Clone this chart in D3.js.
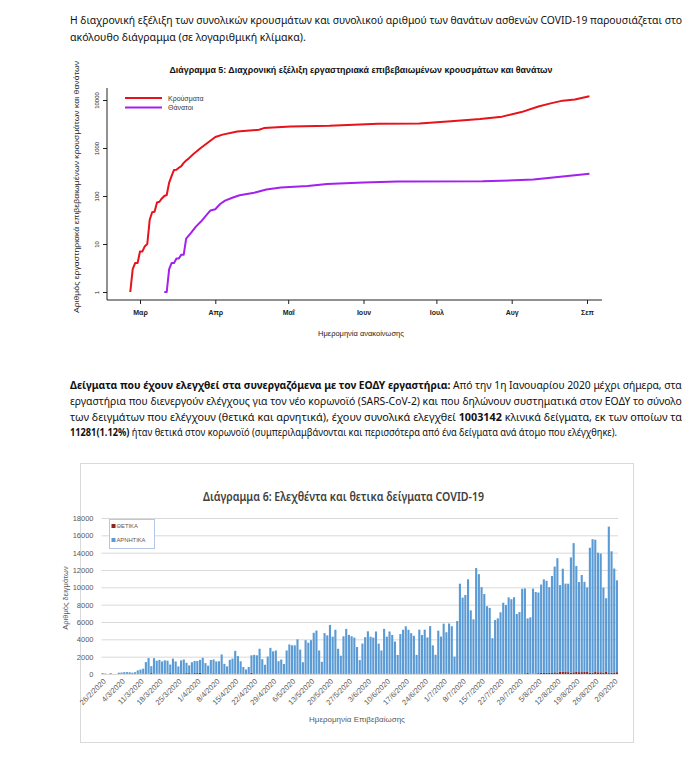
<!DOCTYPE html>
<html>
<head>
<meta charset="utf-8">
<title>ΕΟΔΥ - Διαγράμματα 5 και 6</title>
<script src="https://d3js.org/d3.v7.min.js"></script>
<style>
  body { margin: 0; background: #fff; }
  svg { display: block; font-family: "Liberation Sans", Arial, sans-serif; }
  text { white-space: pre; }
</style>
</head>
<body>
<div id="page"></div>
<script>
// ---------- document text ----------
const para1Lines = [
  [{t: "Η διαχρονική εξέλιξη των συνολικών κρουσμάτων και συνολικού αριθμού των θανάτων ασθενών COVID-19 παρουσιάζεται στο"}],
  [{t: "ακόλουθο διάγραμμα (σε λογαριθμική κλίμακα)."}]
];
const para2Lines = [
  [{t: "Δείγματα που έχουν ελεγχθεί στα συνεργαζόμενα με τον ΕΟΔΥ εργαστήρια:", b: true}, {t: " Από την 1η Ιανουαρίου 2020 μέχρι σήμερα, στα"}],
  [{t: "εργαστήρια που διενεργούν ελέγχους για τον νέο κορωνοϊό (SARS-CoV-2) και που δηλώνουν συστηματικά στον ΕΟΔΥ το σύνολο"}],
  [{t: "των δειγμάτων που ελέγχουν (θετικά και αρνητικά), έχουν συνολικά ελεγχθεί "}, {t: "1003142", b: true}, {t: " κλινικά δείγματα, εκ των οποίων τα"}],
  [{t: "11281(1.12%)", b: true}, {t: " ήταν θετικά στον κορωνοϊό (συμπεριλαμβάνονται και περισσότερα από ένα δείγματα ανά άτομο που ελέγχθηκε)."}]
];

// ---------- Διάγραμμα 5: cumulative cases / deaths (log scale) ----------
const caseDates = ["2020-02-26","2020-02-27","2020-02-28","2020-02-29","2020-03-01","2020-03-02","2020-03-03",
  "2020-03-04","2020-03-05","2020-03-06","2020-03-07","2020-03-08","2020-03-09","2020-03-10","2020-03-11",
  "2020-03-12","2020-03-13","2020-03-14","2020-03-15","2020-03-16","2020-03-17","2020-03-18","2020-03-19",
  "2020-03-20","2020-03-21","2020-03-23","2020-03-26","2020-03-29","2020-04-01","2020-04-04","2020-04-10",
  "2020-04-19","2020-04-21","2020-05-02","2020-05-18","2020-06-07","2020-06-24","2020-07-07","2020-07-19",
  "2020-07-28","2020-08-05","2020-08-12","2020-08-17","2020-08-22","2020-08-27","2020-09-02"];
const caseValues = [1,3,4,4,7,7,9,
  10,32,46,47,73,76,89,100,
  105,190,260,350,352,387,420,490,
  550,600,750,1000,1300,1700,1900,2200,
  2400,2600,2800,2900,3200,3250,3600,4000,
  4500,5600,7300,8500,9700,10200,12000];

const deathDates = ["2020-03-11","2020-03-12","2020-03-13","2020-03-14","2020-03-15","2020-03-16","2020-03-17",
  "2020-03-18","2020-03-19","2020-03-20","2020-03-22","2020-03-24","2020-03-26","2020-03-28","2020-03-30",
  "2020-04-01","2020-04-03","2020-04-05","2020-04-08","2020-04-11","2020-04-17","2020-04-22","2020-04-28",
  "2020-05-09","2020-05-17","2020-06-01","2020-06-15","2020-07-20","2020-08-10","2020-08-24","2020-09-02"];
const deathValues = [1,1,3,4,4,5,5,
  6,6,13,17,23,29,38,50,
  53,68,80,92,104,117,136,150,
  162,178,190,200,202,220,260,290];

const monthStarts = ["2020-03-01","2020-04-01","2020-05-01","2020-06-01","2020-07-01","2020-08-01","2020-09-01"];
const monthLabels = ["Μαρ","Απρ","Μαΐ","Ιουν","Ιουλ","Αυγ","Σεπ"];
const logTicks = [1, 10, 100, 1000, 10000];

// ---------- Διάγραμμα 6: daily samples, 26/2/2020 onwards ----------
const firstSampleDay = "2020-02-26";
const negatives = [
  100,50,0,100,0,0,150,150,200,200,200,150,200,400,500,600,1300,1800,800,1800,
  1500,1600,1400,1550,1500,1000,1700,1400,800,1500,1600,1200,900,1300,1400,1400,1500,1800,1200,900,
  1600,1600,1400,1400,2200,1100,850,1600,1750,2650,2050,1450,800,520,800,2000,2200,2100,2900,1700,
  1050,2000,3000,2600,2700,1450,1650,1150,2700,3400,3300,3300,4000,2800,1350,3900,3600,3900,4750,5000,
  2700,1400,4700,4450,5650,4300,5100,2900,2100,4350,5200,4500,4350,4200,3100,1600,3500,4250,4900,4300,
  4200,4900,3500,2700,5200,4300,4900,4500,3700,2200,4600,5100,5500,5100,4700,4400,2200,5100,4500,5100,
  4200,5500,3300,2200,5000,4300,5800,4800,5800,5500,2000,6100,10400,8800,9100,10900,7300,6300,12200,11500,
  10000,9200,7800,7600,4100,6200,6400,7100,8200,7900,8800,8600,8800,6900,7100,9800,9800,6300,6500,9800,
  9400,9300,10200,10800,10600,9900,11200,12200,13200,10000,11900,10200,10200,13300,14900,12200,10400,11200,10400,9700,
  14400,15400,15200,13800,13700,9800,8500,16900,14000,12000,10600
];
const positives = [
  1,2,1,3,0,0,2,22,14,21,7,7,11,16,10,18,73,38,103,21,
  35,31,46,31,35,94,71,48,78,71,74,95,95,56,102,101,129,69,60,62,
  20,77,52,71,56,70,33,31,25,22,15,17,11,0,10,156,7,55,16,10,
  16,12,15,14,10,25,15,2,18,9,13,6,6,10,8,3,16,10,6,14,
  16,3,21,9,16,7,6,9,10,0,4,11,10,2,12,5,14,3,26,5,
  3,3,4,15,12,10,6,6,47,2,7,2,5,5,10,4,11,16,4,19,
  21,31,5,18,3,23,9,20,25,13,7,12,19,14,15,23,41,13,24,26,
  21,29,29,25,31,28,20,23,21,56,43,30,57,25,49,34,78,110,36,48,
  55,102,124,121,151,122,110,196,162,262,254,230,217,149,203,269,209,220,235,284,
  168,157,293,197,202,168,247,101,157,169,211
];
const yTicks6 = [0, 2000, 4000, 6000, 8000, 10000, 12000, 14000, 16000, 18000];
const seriesNames6 = ["ΘΕΤΙΚΑ", "ΑΡΝΗΤΙΚΑ"];
const seriesColors6 = ["#8e2323", "#5b9bd5"];

// ---------- page ----------
const W = 692, H = 761;
const parse = d3.timeParse("%Y-%m-%d");
const svg = d3.select("#page").append("svg").attr("width", W).attr("height", H);
const docFont = "'Noto Sans', 'Open Sans', sans-serif";

// one text line of the document, stretched/squeezed to the reference width
function textLine(y, len, parts) {
  const g = svg.append("g");
  const t = g.append("text")
    .attr("x", 0).attr("y", 0)
    .attr("font-family", docFont).attr("font-size", 10.5).attr("fill", "#111");
  parts.forEach(p => t.append("tspan").attr("font-weight", p.b ? "bold" : null).text(p.t));
  const natural = t.node().getComputedTextLength();
  g.attr("transform", `translate(70,${y}) scale(${len / natural},1)`);
}
[613, 236].forEach((len, i) => textLine(24 + i * 17, len, para1Lines[i]));
[613, 613, 613, 548].forEach((len, i) => textLine(389 + i * 15.8, len, para2Lines[i]));

// ===== Διάγραμμα 5 =====
const g5 = svg.append("g");
const x5 = d3.scaleTime().domain([parse("2020-03-01"), parse("2020-09-01")]).range([140, 587]);
const y5 = d3.scaleLog().domain([1, 10000]).range([292, 100]);

g5.append("text")
  .attr("x", 361).attr("y", 73).attr("text-anchor", "middle")
  .attr("font-size", 8.5).attr("font-weight", "bold").attr("fill", "#111")
  .attr("textLength", 383).attr("lengthAdjust", "spacingAndGlyphs")
  .text("Διάγραμμα 5: Διαχρονική εξέλιξη εργαστηριακά επιβεβαιωμένων κρουσμάτων και θανάτων");

// L-shaped box
g5.append("path")
  .attr("d", "M107,88V300H602")
  .attr("fill", "none").attr("stroke", "#222").attr("stroke-width", 1);

const xAxis5 = g5.append("g").attr("transform", "translate(0,300)")
  .call(d3.axisBottom(x5)
    .tickValues(monthStarts.map(parse))
    .tickFormat((d, i) => monthLabels[i])
    .tickSize(4).tickPadding(6));
xAxis5.select(".domain").remove();
xAxis5.selectAll("line").attr("stroke", "#222");
xAxis5.selectAll("text").attr("font-size", 7).attr("font-weight", "bold")
  .attr("font-family", "'Liberation Sans', Arial, sans-serif").attr("fill", "#222");

const yAxis5 = g5.append("g").attr("transform", "translate(107,0)")
  .call(d3.axisLeft(y5).tickValues(logTicks).tickFormat(d3.format("d")).tickSize(4));
yAxis5.select(".domain").remove();
yAxis5.selectAll("line").attr("stroke", "#222");
yAxis5.selectAll("text")
  .attr("transform", "rotate(-90)")
  .attr("x", 0).attr("y", -8).attr("dy", 0)
  .attr("text-anchor", "middle")
  .attr("font-size", 6).attr("font-family", "'Liberation Sans', Arial, sans-serif").attr("fill", "#222");

g5.append("text")
  .attr("transform", "translate(79,187) rotate(-90)")
  .attr("text-anchor", "middle").attr("font-size", 7.5).attr("fill", "#222")
  .attr("textLength", 252).attr("lengthAdjust", "spacingAndGlyphs")
  .text("Αριθμός εργαστηριακά επιβεβαιωμένων κρουσμάτων και θανάτων");

g5.append("text")
  .attr("x", 361).attr("y", 336).attr("text-anchor", "middle")
  .attr("font-size", 7.5).attr("fill", "#222")
  .text("Ημερομηνία ανακοίνωσης");

const line5 = d3.line().x(d => x5(d[0])).y(d => y5(d[1]));
const cases = caseDates.map((d, i) => [parse(d), caseValues[i]]);
const deaths = deathDates.map((d, i) => [parse(d), deathValues[i]]);
const lineColors5 = ["#e8121a", "#a321ef"];
[cases, deaths].forEach((s, i) => {
  g5.append("path").datum(s)
    .attr("d", line5)
    .attr("fill", "none").attr("stroke", lineColors5[i])
    .attr("stroke-width", 2).attr("stroke-linejoin", "round");
});

const legend5 = g5.append("g");
["Κρούσματα", "Θάνατοι"].forEach((name, i) => {
  const y = 98 + i * 9.5;
  legend5.append("line").attr("x1", 125).attr("x2", 162).attr("y1", y).attr("y2", y)
    .attr("stroke", lineColors5[i]).attr("stroke-width", 2);
  legend5.append("text").attr("x", 168).attr("y", y + 2.5)
    .attr("font-size", 7).attr("fill", "#333").text(name);
});

// ===== Διάγραμμα 6 =====
const g6 = svg.append("g");
const day0 = parse(firstSampleDay);
const days6 = negatives.map((v, i) => d3.timeDay.offset(day0, i));
const fmt6 = d3.timeFormat("%-d/%-m/%Y");

g6.append("rect")
  .attr("x", 80.5).attr("y", 463.5).attr("width", 553).attr("height", 279)
  .attr("fill", "#fff").attr("stroke", "#d9d9d9");

const x6 = d3.scaleBand().domain(d3.range(negatives.length)).range([101.5, 618]).paddingInner(0.22);
const y6 = d3.scaleLinear().domain([0, 18000]).range([674, 518]);

g6.append("text")
  .attr("x", 343.5).attr("y", 501).attr("text-anchor", "middle")
  .attr("font-family", docFont).attr("font-size", 12).attr("font-weight", 600).attr("fill", "#404040")
  .attr("textLength", 281).attr("lengthAdjust", "spacingAndGlyphs")
  .text("Διάγραμμα 6: Ελεχθέντα και θετικα δείγματα COVID-19");

const yAxis6 = g6.append("g").attr("transform", "translate(101.5,0)")
  .call(d3.axisLeft(y6).tickValues(yTicks6).tickSize(-516.5).tickPadding(8).tickFormat(d3.format("d")));
yAxis6.select(".domain").remove();
yAxis6.selectAll("line").attr("stroke", "#d9d9d9");
yAxis6.selectAll("text").attr("font-size", 7.5).attr("fill", "#595959");

const rows6 = negatives.map((v, i) => ({i: i, pos: positives[i], neg: v}));
const stacked = d3.stack().keys(["pos", "neg"])(rows6);
g6.append("g").selectAll("g").data(stacked).join("g")
  .attr("fill", (d, k) => seriesColors6[k])
  .selectAll("rect").data(d => d).join("rect")
  .attr("x", d => x6(d.data.i))
  .attr("width", x6.bandwidth())
  .attr("y", d => y6(d[1]))
  .attr("height", d => y6(d[0]) - y6(d[1]));

g6.append("line").attr("x1", 101.5).attr("x2", 618).attr("y1", 674.5).attr("y2", 674.5)
  .attr("stroke", "#d9d9d9");

g6.append("g").selectAll("text")
  .data(d3.range(0, negatives.length, 7))
  .join("text")
  .attr("transform", i => `translate(${x6(i) + x6.bandwidth() / 2 + 2},${680}) rotate(-45)`)
  .attr("text-anchor", "end").attr("dy", "0.35em")
  .attr("font-size", 7.5).attr("fill", "#595959")
  .text(i => fmt6(days6[i]));

g6.append("text")
  .attr("transform", "translate(68,598) rotate(-90)")
  .attr("text-anchor", "middle").attr("font-size", 7.5).attr("fill", "#595959")
  .text("Αριθμός δειγμάτων");

g6.append("text")
  .attr("x", 357).attr("y", 722).attr("text-anchor", "middle")
  .attr("font-size", 8).attr("fill", "#595959")
  .text("Ημερομηνία Επιβεβαίωσης");

const legend6 = g6.append("g");
legend6.append("rect").attr("x", 109.5).attr("y", 519.5).attr("width", 45).attr("height", 29)
  .attr("fill", "#fff").attr("stroke", "#b4c7e7");
seriesNames6.forEach((name, k) => {
  const y = 526 + k * 14;
  legend6.append("rect").attr("x", 111.5).attr("y", y - 2).attr("width", 4).attr("height", 4)
    .attr("fill", seriesColors6[k]);
  legend6.append("text").attr("x", 116.5).attr("y", y + 2)
    .attr("font-size", 5.8).attr("fill", "#595959").text(name);
});
</script>
</body>
</html>
